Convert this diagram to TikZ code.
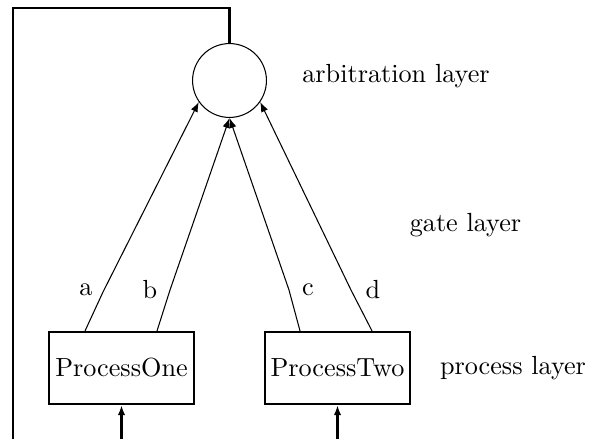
\documentclass[tikz,border=0pt]{standalone}
\usetikzlibrary{arrows.meta}
\begin{document}
\begin{tikzpicture}[x=0.3817pt, y=-0.3817pt,
		proc/.style = {draw, line width=0.8pt, minimum width=55.3pt, minimum height=27.5pt, inner sep=0pt},
		arb/.style = {draw, circle, minimum size=28.2pt, inner sep=0pt},
		tip/.style = {-{Latex[length=3.8pt, width=2.8pt]}}]
				\useasboundingbox (0,0) rectangle (596,439);
				\node[arb] (arb) at (229.5,80.5) {};
				\node[proc] (p1) at (121.5,368) {ProcessOne};
				\node[proc] (p2) at (337.5,368) {ProcessTwo};

				\coordinate (ga) at (103,292);
				\coordinate (gb) at (170,290);
				\coordinate (gc) at (289,290);
				\coordinate (gd) at (351,290);
				\coordinate (corner) at (13,8);
				\coordinate (fb) at (13,439);
				\coordinate (in1) at (121.5,439);
				\coordinate (in2) at (337.5,439);

				\node (la) at (86,290) {a};
				\node (lb) at (150,290) {b};
				\node (lc) at (308,290) {c};
				\node (ld) at (373,290) {d};

				\node (arbtext) at (396,76) {arbitration layer};
				\node (gatetext) at (465.5,225) {gate layer};
				\node (proctext) at (513,368) {process layer};

				\draw[line width=0.4pt] (p1.north west) ++(37,0) -- (ga);
				\draw[line width=0.4pt, tip] (ga) -- (arb.215);
				\draw[line width=0.4pt] (p1.north west) ++(109,0) -- (gb);
				\draw[line width=0.4pt, tip] (gb) -- (arb.south);
				\draw[line width=0.4pt] (p2.north west) ++(36,0) -- (gc);
				\draw[line width=0.4pt, tip] (gc) -- (arb.south);
				\draw[line width=0.4pt] (p2.north west) ++(108,0) -- (gd);
				\draw[line width=0.4pt, tip] (gd) -- (arb.325);

				\draw[line width=0.8pt] (arb.north) |- (corner) -- (fb);
				\draw[line width=0.8pt, tip] (in1) -- (p1.south);
				\draw[line width=0.8pt, tip] (in2) -- (p2.south);
			\end{tikzpicture}
\end{document}
